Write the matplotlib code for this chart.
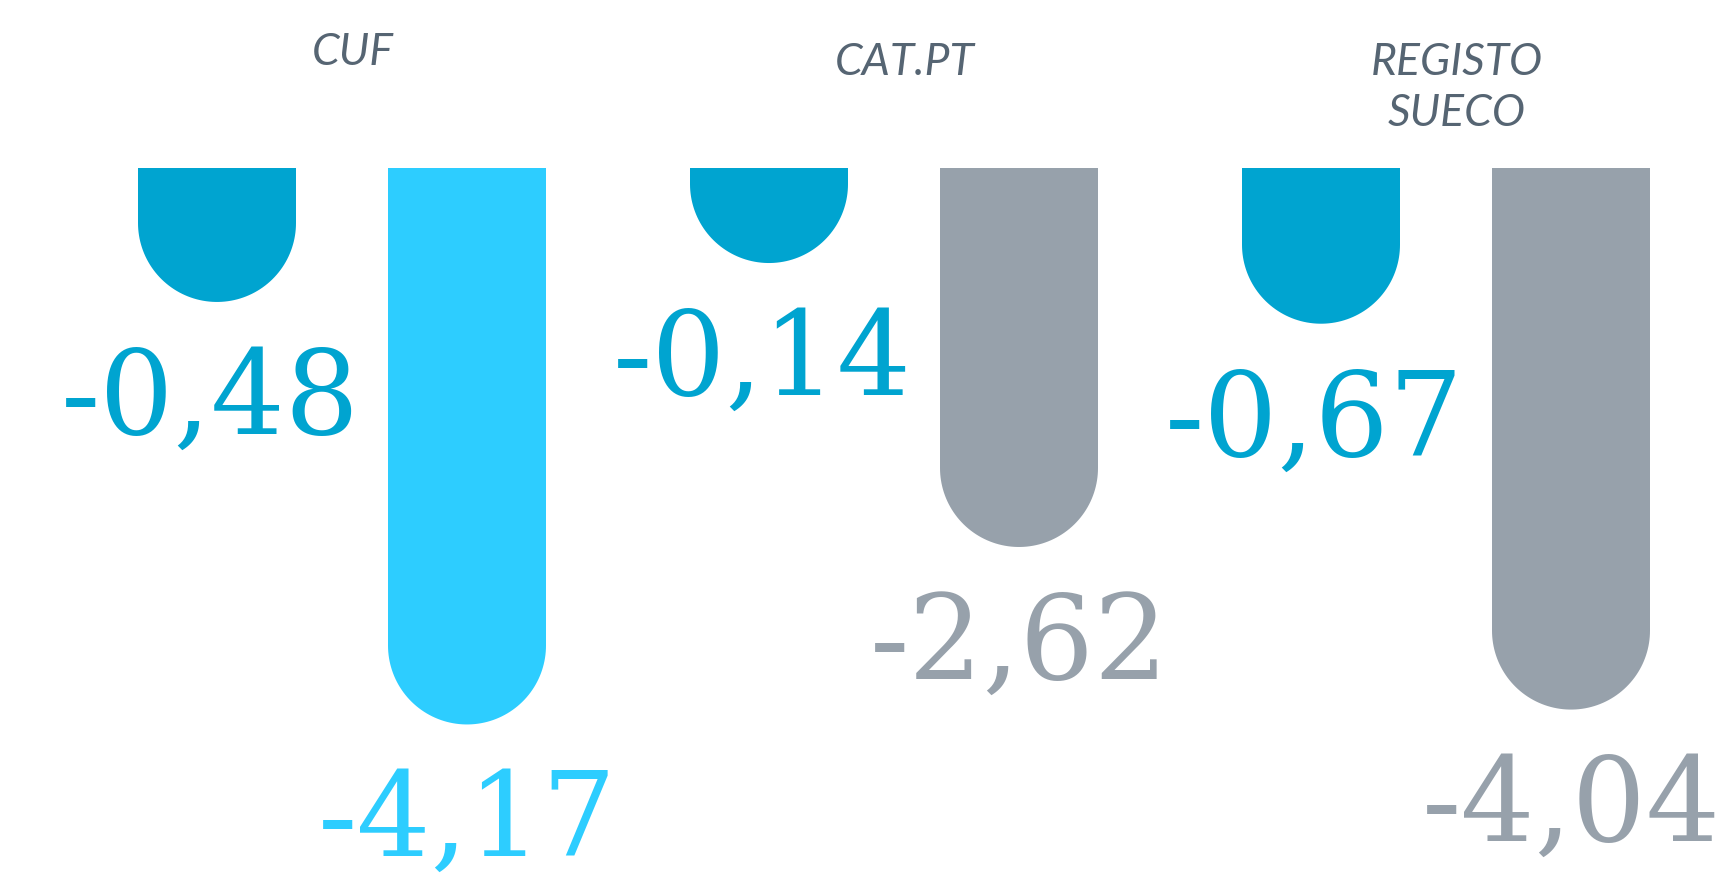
# Rounded "test tube" bars: group comparison with big value labels

import numpy as np
import matplotlib.pyplot as plt
from matplotlib.patches import Polygon

groups = ["CUF", "CAT.PT", "REGISTO\nSUECO"]
left_values = [-0.48, -0.14, -0.67]
right_values = [-4.17, -2.62, -4.04]
left_colors = ["#00A4D0", "#00A4D0", "#00A4D0"]
right_colors = ["#2DCDFF", "#97A1AB", "#97A1AB"]

# figure geometry (pixels at dpi 100)
W, H = 1726, 886
group_px = 552.0      # pixel distance between group centres
unit_px = 114.5       # pixels per value unit
zero_px = 168.0       # y of the bar tops, from the top edge
first_px = 342.0      # x of the first group centre

offset = 125.0 / group_px
half_w = 79.0 / group_px
cap_h = 79.0 / unit_px

fig = plt.figure(figsize=(W / 100, H / 100), dpi=100)
ax = fig.add_axes([0, 0, 1, 1])
ax.set_xlim(-first_px / group_px, (W - first_px) / group_px)
ax.set_ylim(-(H - zero_px) / unit_px, zero_px / unit_px)
ax.axis("off")


def tube(cx, v, color):
    t = np.linspace(np.pi, 2 * np.pi, 80)
    xs = np.concatenate([[cx - half_w], cx + half_w * np.cos(t), [cx + half_w]])
    ys = np.concatenate([[0], v + cap_h * np.sin(t), [0]])
    ax.add_patch(Polygon(np.column_stack([xs, ys]), closed=True,
                         facecolor=color, edgecolor="none"))


def label(cx, v, color):
    txt = f"{v:.2f}".replace(".", ",")
    ax.text(cx, v - cap_h - 1.15, txt, ha="center", va="baseline",
            fontsize=84, family="DejaVu Serif", color=color)


title_tops = [1.19, 1.10, 1.10]
for i, g in enumerate(groups):
    xl, xr = i - offset, i + offset
    tube(xl, left_values[i], left_colors[i])
    tube(xr, right_values[i], right_colors[i])
    label(xl - 0.012, left_values[i], left_colors[i])
    label(xr, right_values[i], right_colors[i])
    ax.text(i + 0.02, title_tops[i], g, ha="center", va="top",
            fontsize=32, family="Lato", style="italic", color="#566573",
            linespacing=1.3)

fig.savefig("out.png", dpi=100)
